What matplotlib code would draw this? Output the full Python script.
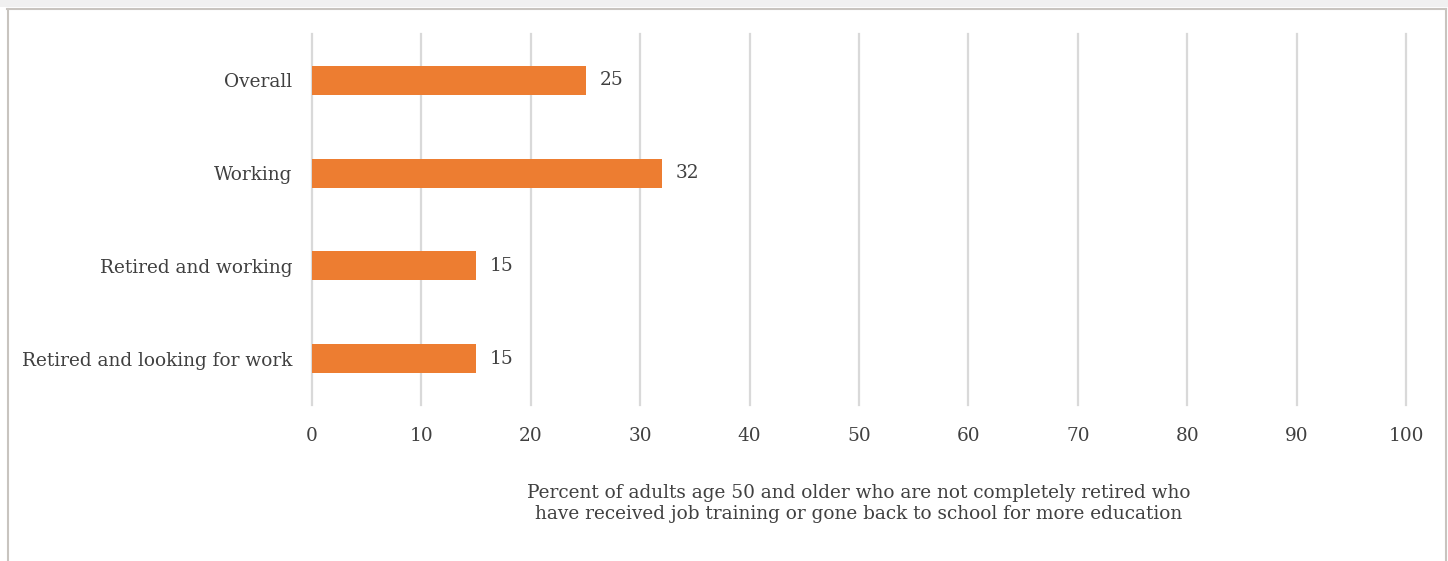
import matplotlib
matplotlib.use("Agg")
import matplotlib.pyplot as plt
from matplotlib.patches import Rectangle
from matplotlib.lines import Line2D

# data
categories = ["Overall", "Working", "Retired and working", "Retired and looking for work"]
values = [25, 32, 15, 15]
xticks = [0, 10, 20, 30, 40, 50, 60, 70, 80, 90, 100]
xlabel = ("Percent of adults age 50 and older who are not completely retired who\n"
          "have received job training or gone back to school for more education")

plt.rcParams['font.family'] = ['DejaVu Serif']
textColor = "#404040"
barColor = "#ED7D31"
fs = 13.3

fig = plt.figure(figsize=(14.48, 5.61), dpi=100)
fig.patch.set_facecolor("white")

# outer frame like the source page
fig.patches.append(Rectangle((0, 1 - 7 / 561), 1, 7 / 561, transform=fig.transFigure,
                             facecolor="#f0f0f0", edgecolor="none", zorder=0))
borderColor = "#c8c4bf"
fig.lines.append(Line2D([7 / 1448, 1446 / 1448], [1 - 8.5 / 561, 1 - 8.5 / 561],
                        transform=fig.transFigure, color=borderColor, lw=1.5))
fig.lines.append(Line2D([7.5 / 1448, 7.5 / 1448], [0, 1 - 8.5 / 561],
                        transform=fig.transFigure, color=borderColor, lw=1.5))
fig.lines.append(Line2D([1445.5 / 1448, 1445.5 / 1448], [0, 1 - 8.5 / 561],
                        transform=fig.transFigure, color=borderColor, lw=1.5))

ax = fig.add_axes([312 / 1448, 1 - 405 / 561, (1406 - 312) / 1448, (405 - 34) / 561])

ypos = list(range(len(categories)))
ax.barh(ypos, values, height=0.31, color=barColor, zorder=3)
for y, v in zip(ypos, values):
    ax.annotate(str(v), (v, y), xytext=(10, 0), textcoords="offset points",
                va="center", ha="left", fontsize=fs, color=textColor)

ax.set_xlim(0, 100)
ax.set_ylim(3.5, -0.5)
ax.set_xticks(xticks)
ax.set_yticks(ypos)
ax.set_yticklabels(categories)
ax.tick_params(axis="both", length=0, labelsize=fs, labelcolor=textColor)
ax.tick_params(axis="x", pad=16)
ax.tick_params(axis="y", pad=14)
ax.grid(axis="x", color="#d9d9d9", linewidth=1.6, zorder=0)
for g in ax.get_xgridlines():
    g.set_clip_on(False)
for s in ax.spines.values():
    s.set_visible(False)

ax.set_xlabel(xlabel, fontsize=fs, color=textColor, labelpad=28, linespacing=1.2)

fig.savefig("out.png", dpi=100)
